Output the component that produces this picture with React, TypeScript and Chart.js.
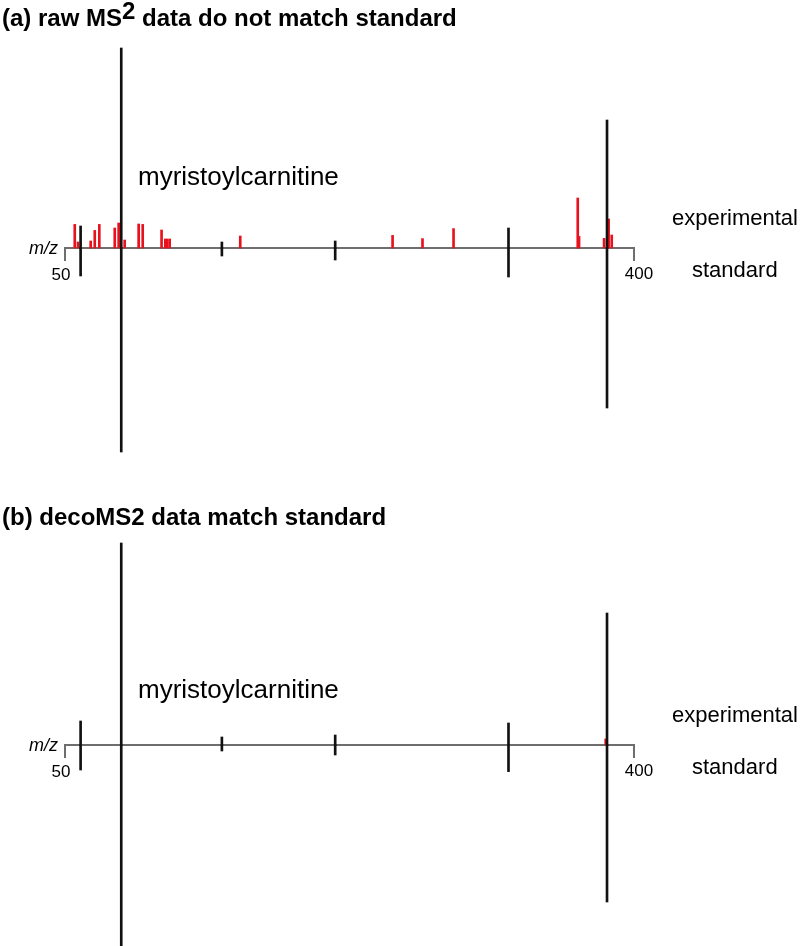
import React, { useEffect, useRef } from "react";
import { Chart, registerables } from "chart.js";

Chart.register(...registerables);

// ---------- data ----------
const MZ_MIN = 50;
const MZ_MAX = 400;
const axisTickLabels = ["50", "400"];

// standard peaks (m/z) shared by both panels
const standardMz = [59.6, 84.6, 146.5, 216.2, 322.8, 383.4];

// panel (a): raw MS2
const rawMatchedUp = [11, 100, 3, 3.5, 10, 64];
const rawStandardDown = [14, 102, 4, 6, 14.5, 80];
const rawUnmatchedMz = [
  56.0, 58.0, 65.8, 68.3, 71.1, 80.6, 83.0, 86.7, 95.3, 97.8, 109.4, 111.7,
  112.9, 114.4, 157.8, 251.5, 269.9, 289.0, 365.4, 366.2, 381.6, 384.4, 386.3,
];
const rawUnmatchedInt = [
  11.8, 3, 3.5, 8.8, 11.8, 10, 12.5, 4, 12, 11.8, 9, 4.5, 4.5, 4.5, 6, 6.3,
  4.7, 9.7, 25, 5.8, 4.8, 14.5, 6.5,
];

// panel (b): decoMS2
const decoMatchedUp = [12, 101, 4, 5, 11, 66];
const decoStandardDown = [12.5, 102, 3, 5, 13.3, 78.5];
const decoUnmatchedMz = [382.6];
const decoUnmatchedInt = [3];

const compoundName = "myristoylcarnitine";
const FONT = '"Liberation Sans", Arial, Helvetica, sans-serif';
const RED = "rgb(232, 18, 30)";
const BLACK = "#111111";
const AXIS_GRAY = "#6e6e6e";

type TitlePart = { text: string; sup?: boolean };

function makePanelPlugin(title: TitlePart[], titleBaseline: number, nameOffset: number) {
  return {
    id: "panelDecor",
    beforeDatasetsDraw(chart: any) {
      const ctx = chart.ctx;
      const xs = chart.scales.x;
      const ys = chart.scales.y;
      const x0 = xs.getPixelForValue(MZ_MIN);
      const x1 = xs.getPixelForValue(MZ_MAX);
      const y0 = Math.round(ys.getPixelForValue(0));
      ctx.save();
      ctx.strokeStyle = AXIS_GRAY;
      ctx.lineWidth = 2;
      ctx.beginPath();
      ctx.moveTo(x0, y0 + 13);
      ctx.lineTo(x0, y0);
      ctx.lineTo(x1, y0);
      ctx.lineTo(x1, y0 + 13);
      ctx.stroke();
      ctx.restore();
    },
    afterDraw(chart: any) {
      const ctx = chart.ctx;
      const xs = chart.scales.x;
      const ys = chart.scales.y;
      const x0 = xs.getPixelForValue(MZ_MIN);
      const x1 = xs.getPixelForValue(MZ_MAX);
      const y0 = ys.getPixelForValue(0);
      ctx.save();
      ctx.fillStyle = "#000";
      ctx.textBaseline = "alphabetic";

      // title
      let tx = 2;
      for (const p of title) {
        ctx.font = `bold 24px ${FONT}`;
        ctx.textAlign = "left";
        ctx.fillText(p.text, tx, p.sup ? titleBaseline - 7 : titleBaseline);
        tx += ctx.measureText(p.text).width;
      }

      // compound name
      ctx.font = `26px ${FONT}`;
      ctx.textAlign = "left";
      ctx.fillText(compoundName, x0 + 73, y0 + nameOffset);

      // experimental / standard labels
      ctx.font = `22px ${FONT}`;
      ctx.fillText("experimental", 672, y0 - 23);
      ctx.fillText("standard", 692, y0 + 29);

      // m/z label
      ctx.font = `italic 18px ${FONT}`;
      ctx.textAlign = "right";
      ctx.fillText("m/z", x0 - 7, y0 + 6);

      // tick labels
      ctx.font = `17px ${FONT}`;
      ctx.textAlign = "center";
      ctx.fillText(axisTickLabels[0], x0 - 4, y0 + 32);
      ctx.fillText(axisTickLabels[1], x1 + 5, y0 + 31);
      ctx.restore();
    },
  };
}

function buildConfig(
  up: number[],
  down: number[],
  redMz: number[],
  redInt: number[],
  yMin: number,
  yMax: number,
  padBottom: number,
  plugin: any
): any {
  return {
    type: "bar",
    data: {
      datasets: [
        {
          label: "experimental (matched)",
          data: standardMz.map((mz, i) => ({ x: mz, y: [0, up[i]] })),
          backgroundColor: BLACK,
          barThickness: 2,
          grouped: false,
          borderWidth: 0,
          order: 0,
        },
        {
          label: "standard",
          data: standardMz.map((mz, i) => ({ x: mz, y: [-down[i], 0] })),
          backgroundColor: BLACK,
          barThickness: 2,
          grouped: false,
          borderWidth: 0,
          order: 0,
        },
        {
          label: "experimental (unmatched)",
          data: redMz.map((mz, i) => ({ x: mz, y: [0, redInt[i]] })),
          backgroundColor: RED,
          barThickness: 2,
          grouped: false,
          borderWidth: 0,
          order: 1,
        },
      ],
    },
    options: {
      animation: false,
      responsive: false,
      events: [],
      layout: { padding: { left: 65, right: 166, top: 44, bottom: padBottom } },
      plugins: {
        legend: { display: false },
        tooltip: { enabled: false },
        title: { display: false },
      },
      scales: {
        x: { type: "linear", min: MZ_MIN, max: MZ_MAX, offset: false, display: false },
        y: { type: "linear", min: yMin, max: yMax, display: false },
      },
    },
    plugins: [plugin],
  };
}

export default function App() {
  const refA = useRef<HTMLCanvasElement | null>(null);
  const refB = useRef<HTMLCanvasElement | null>(null);

  useEffect(() => {
    const chartA = new Chart(
      refA.current as HTMLCanvasElement,
      buildConfig(
        rawMatchedUp,
        rawStandardDown,
        rawUnmatchedMz,
        rawUnmatchedInt,
        -105,
        102,
        39,
        makePanelPlugin(
          [{ text: "(a) raw MS" }, { text: "2", sup: true }, { text: " data do not match standard" }],
          26,
          -63
        )
      )
    );
    const chartB = new Chart(
      refB.current as HTMLCanvasElement,
      buildConfig(
        decoMatchedUp,
        decoStandardDown,
        decoUnmatchedMz,
        decoUnmatchedInt,
        -100.5,
        102,
        0,
        makePanelPlugin([{ text: "(b) decoMS2 data match standard" }], 28, -47)
      )
    );
    return () => {
      chartA.destroy();
      chartB.destroy();
    };
  }, []);

  return (
    <div style={{ position: "absolute", left: 0, top: 0, width: 800, height: 946, background: "#fff" }}>
      <canvas ref={refA} width={800} height={497} style={{ position: "absolute", left: 0, top: 0 }} />
      <canvas ref={refB} width={800} height={449} style={{ position: "absolute", left: 0, top: 497 }} />
    </div>
  );
}
